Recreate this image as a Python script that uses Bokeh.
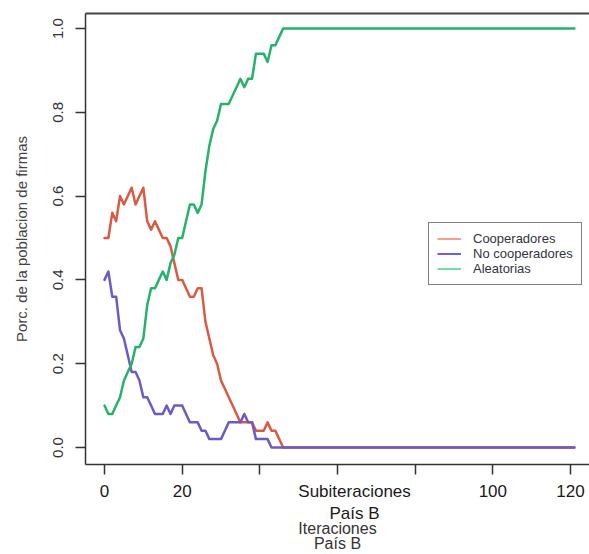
import math
from bokeh.plotting import figure
from bokeh.models import (Range1d, LinearAxis, FixedTicker, Legend, LegendItem,
                          NumeralTickFormatter, ColumnDataSource)
from bokeh.embed import file_html
from bokeh.resources import INLINE

# ---- data ----
iteraciones = [0, 1, 2, 3, 4, 5, 6, 7, 8, 9,
               10, 11, 12, 13, 14, 15, 16, 17, 18, 19,
               20, 21, 22, 23, 24, 25, 26, 27, 28, 29,
               30, 31, 32, 33, 34, 35, 36, 37, 38, 39,
               40, 41, 42, 43, 44, 45, 46, 121]

cooperadores = [0.50, 0.50, 0.56, 0.54, 0.60, 0.58, 0.60, 0.62, 0.58, 0.60,
                0.62, 0.54, 0.52, 0.54, 0.52, 0.50, 0.50, 0.48, 0.44, 0.40,
                0.40, 0.38, 0.36, 0.36, 0.38, 0.38, 0.30, 0.26, 0.22, 0.20,
                0.16, 0.14, 0.12, 0.10, 0.08, 0.06, 0.06, 0.06, 0.06, 0.04,
                0.04, 0.04, 0.06, 0.04, 0.04, 0.02, 0.00, 0.00]

no_cooperadores = [0.40, 0.42, 0.36, 0.36, 0.28, 0.26, 0.22, 0.18, 0.18, 0.16,
                   0.12, 0.12, 0.10, 0.08, 0.08, 0.08, 0.10, 0.08, 0.10, 0.10,
                   0.10, 0.08, 0.06, 0.06, 0.06, 0.04, 0.04, 0.02, 0.02, 0.02,
                   0.02, 0.04, 0.06, 0.06, 0.06, 0.06, 0.08, 0.06, 0.06, 0.02,
                   0.02, 0.02, 0.02, 0.00, 0.00, 0.00, 0.00, 0.00]

aleatorias = [0.10, 0.08, 0.08, 0.10, 0.12, 0.16, 0.18, 0.20, 0.24, 0.24,
              0.26, 0.34, 0.38, 0.38, 0.40, 0.42, 0.40, 0.44, 0.46, 0.50,
              0.50, 0.54, 0.58, 0.58, 0.56, 0.58, 0.66, 0.72, 0.76, 0.78,
              0.82, 0.82, 0.82, 0.84, 0.86, 0.88, 0.86, 0.88, 0.88, 0.94,
              0.94, 0.94, 0.92, 0.96, 0.96, 0.98, 1.00, 1.00]

series_names = ["Cooperadores", "No cooperadores", "Aleatorias"]
x_tick_marks = [0, 20, 40, 60, 80, 100, 120]
# labelled positions on the x axis (the overlay title sits among the tick labels)
x_label_pos = [0, 20, 64.4, 100, 120]
x_label_text = {0: "0", 20: "20", 64.4: "Subiteraciones\nPaís B", 100: "100", 120: "120"}
y_ticks = [0.0, 0.2, 0.4, 0.6, 0.8, 1.0]

FONT = "Liberation Sans"

src = ColumnDataSource(dict(x=iteraciones, c=cooperadores, n=no_cooperadores, a=aleatorias))

p = figure(width=589, height=554, output_backend="svg", toolbar_location=None,
           x_range=Range1d(-4.893, 124.90), y_range=Range1d(-0.0406, 1.0358),
           min_border_left=85, min_border_right=0, min_border_top=13, min_border_bottom=90)
p.outline_line_color = None
p.grid.visible = False
p.background_fill_color = "white"
p.border_fill_color = "white"

# lines
p.line("x", "c", source=src, line_color="#D95B43", line_width=2.5, line_join="round", line_cap="round")
p.line("x", "n", source=src, line_color="#6B5BC2", line_width=2.5, line_join="round", line_cap="round")
p.line("x", "a", source=src, line_color="#25B36A", line_width=2.5, line_join="round", line_cap="round")

# x axis: visible tick marks are the "minor" ticks, labels come from invisible majors
xa = p.xaxis[0]
xa.ticker = FixedTicker(ticks=x_label_pos, minor_ticks=x_tick_marks)
xa.major_label_overrides = x_label_text
xa.major_tick_line_color = None
xa.major_tick_out = 10
xa.major_tick_in = 0
xa.minor_tick_out = 10
xa.minor_tick_in = 0
xa.minor_tick_line_color = "#333333"
xa.minor_tick_line_width = 1.5
xa.major_label_standoff = 7
xa.major_label_text_font = FONT
xa.major_label_text_font_size = "17px"
xa.major_label_text_line_height = 1.2
xa.major_label_text_color = "#1a1a1a"
xa.axis_line_color = "#333333"
xa.axis_line_width = 1.5
xa.axis_label = "Iteraciones\nPaís B"
xa.axis_label_text_font = FONT
xa.axis_label_text_font_size = "16px"
xa.axis_label_text_font_style = "normal"
xa.axis_label_text_color = "#333333"
xa.axis_label_text_line_height = 0.85
xa.axis_label_standoff = -6

ya = p.yaxis[0]
ya.ticker = FixedTicker(ticks=y_ticks)
ya.formatter = NumeralTickFormatter(format="0.0")
ya.major_label_orientation = "vertical"
ya.minor_tick_line_color = None
ya.major_tick_out = 10
ya.major_tick_in = 0
ya.major_label_standoff = 12
ya.major_label_text_font = FONT
ya.major_label_text_font_size = "15px"
ya.major_label_text_color = "#333333"
ya.axis_line_color = "#333333"
ya.axis_line_width = 1.5
ya.major_tick_line_color = "#333333"
ya.major_tick_line_width = 1.5
ya.axis_label = "Porc. de la poblacion de firmas"
ya.axis_label_text_font = FONT
ya.axis_label_text_font_size = "15px"
ya.axis_label_text_font_style = "normal"
ya.axis_label_text_color = "#444444"
ya.axis_label_standoff = 21

top = LinearAxis(ticker=FixedTicker(ticks=[]), major_tick_out=0, major_tick_in=0,
                 minor_tick_out=0, minor_tick_in=0, major_label_standoff=0,
                 major_label_text_font_size="0px", axis_line_color="#444444",
                 axis_line_width=2)
p.add_layout(top, "above")

# legend (lighter swatches as in the reference); proxies hold a single NaN point
nan = float("nan")
lc = p.line([nan], [nan], line_color="#F4A08C", line_width=2)
ln = p.line([nan], [nan], line_color="#6B5CF5", line_width=2)
la = p.line([nan], [nan], line_color="#6EE0A0", line_width=2)
legend = Legend(items=[LegendItem(label=series_names[0], renderers=[lc]),
                       LegendItem(label=series_names[1], renderers=[ln]),
                       LegendItem(label=series_names[2], renderers=[la])],
                location=(343, 179), padding=8, spacing=0, margin=0,
                glyph_height=15, glyph_width=24, label_height=15, label_standoff=12,
                label_text_font=FONT, label_text_font_size="13px",
                label_text_color="#333340", border_line_color="black",
                border_line_width=1, background_fill_color="white",
                background_fill_alpha=1)
p.add_layout(legend)

open("out.html", "w").write(file_html(p, INLINE))
